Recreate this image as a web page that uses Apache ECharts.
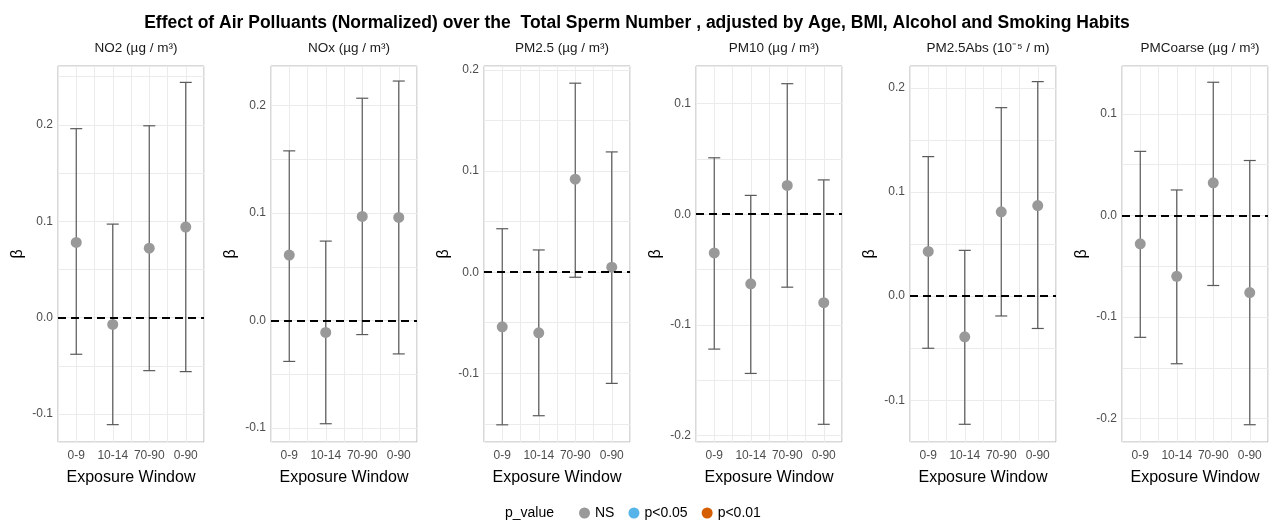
<!DOCTYPE html>
<html>
<head>
<meta charset="utf-8">
<script src="https://cdn.jsdelivr.net/npm/echarts@6/dist/echarts.min.js"></script>
<style>
  html, body { margin: 0; padding: 0; background: #fff; }
  #main { width: 1271px; height: 522px; }
</style>
</head>
<body>
<div id="main"></div>
<script>
// data
var windows = ['0-9', '10-14', '70-90', '0-90'];
var pollutants = ['NO2 (µg / m³)', 'NOx (µg / m³)', 'PM2.5 (µg / m³)', 'PM10 (µg / m³)', 'PM2.5Abs (10⁻⁵ / m)', 'PMCoarse (µg / m³)'];

var betaNO2 = [0.078, -0.007, 0.072, 0.094];
var lowNO2 = [-0.038, -0.111, -0.055, -0.056];
var highNO2 = [0.196, 0.097, 0.199, 0.244];

var betaNOx = [0.061, -0.011, 0.097, 0.096];
var lowNOx = [-0.038, -0.096, -0.013, -0.031];
var highNOx = [0.158, 0.074, 0.207, 0.223];

var betaPM25 = [-0.054, -0.060, 0.092, 0.005];
var lowPM25 = [-0.151, -0.142, -0.005, -0.110];
var highPM25 = [0.043, 0.022, 0.187, 0.119];

var betaPM10 = [-0.035, -0.063, 0.026, -0.080];
var lowPM10 = [-0.122, -0.144, -0.066, -0.190];
var highPM10 = [0.051, 0.017, 0.118, 0.031];

var betaAbs = [0.043, -0.039, 0.081, 0.087];
var lowAbs = [-0.050, -0.123, -0.019, -0.031];
var highAbs = [0.134, 0.044, 0.181, 0.206];

var betaCoarse = [-0.028, -0.060, 0.032, -0.076];
var lowCoarse = [-0.120, -0.146, -0.069, -0.206];
var highCoarse = [0.063, 0.025, 0.131, 0.054];

var pValue = ['NS', 'NS', 'NS', 'NS'];  // same for every panel
var pClasses = ['NS', 'p<0.05', 'p<0.01'];
var pColors = ['#999999', '#56B4E9', '#D55E00'];

// y ranges of each panel
var yMin = [-0.129, -0.113, -0.168, -0.206, -0.140, -0.223];
var yMax = [0.261, 0.237, 0.204, 0.134, 0.221, 0.147];

var betas = [betaNO2, betaNOx, betaPM25, betaPM10, betaAbs, betaCoarse];
var lows = [lowNO2, lowNOx, lowPM25, lowPM10, lowAbs, lowCoarse];
var highs = [highNO2, highNOx, highPM25, highPM10, highAbs, highCoarse];

var myChart = echarts.init(document.getElementById('main'));

var panelLeft = [58, 271, 484, 696, 910, 1122];
var panelWidth = 146;
var font = 'Liberation Sans, Arial, sans-serif';

var grids = [], xAxes = [], yAxes = [], series = [], titles = [];

titles.push({
    text: 'Effect of Air Polluants (Normalized) over the  Total Sperm Number , adjusted by Age, BMI, Alcohol and Smoking Habits',
    left: 632, top: 9, textAlign: 'center',
    textStyle: {fontFamily: font, fontSize: 17.5, fontWeight: 'bold', color: '#000'}
});
titles.push({
    text: 'p_value', left: 500, top: 501,
    textStyle: {fontFamily: font, fontSize: 14, fontWeight: 'normal', color: '#000'}
});

for (var i = 0; i < 6; i++) {
    grids.push({
        left: panelLeft[i], top: 66, width: panelWidth, height: 376,
        show: true, borderColor: '#b3b3b3', borderWidth: 1, backgroundColor: '#fff'
    });
    titles.push({
        text: pollutants[i], left: panelLeft[i] + panelWidth / 2, top: 36, textAlign: 'center',
        textStyle: {fontFamily: font, fontSize: 13.5, fontWeight: 'normal', color: '#1a1a1a'}
    });
    xAxes.push({
        type: 'value', gridIndex: i, min: -0.5, max: 3.5, interval: 0.5,
        name: 'Exposure Window', nameLocation: 'middle', nameGap: 28,
        nameTextStyle: {fontFamily: font, fontSize: 16, color: '#000'},
        axisLine: {show: false}, axisTick: {show: false},
        axisLabel: {
            fontFamily: font, fontSize: 12, color: '#4d4d4d', margin: 8,
            showMinLabel: true, showMaxLabel: true,
            formatter: function (v) {
                return Number.isInteger(v) ? windows[v] : '';
            }
        },
        splitLine: {show: true, lineStyle: {color: '#ebebeb', width: 1}}
    });
    var span = yMax[i] - yMin[i];
    yAxes.push({
        type: 'value', gridIndex: i, min: yMin[i], max: yMax[i],
        splitNumber: Math.round(span / 0.05),
        name: 'β', nameLocation: 'middle', nameGap: 32, nameRotate: 90,
        nameTextStyle: {fontFamily: font, fontSize: 16, color: '#000'},
        axisLine: {show: false}, axisTick: {show: false},
        axisLabel: {
            fontFamily: font, fontSize: 12, color: '#4d4d4d', margin: 5,
            formatter: function (v) {
                var r = Math.round(v * 10) / 10;
                if (Math.abs(v - r) > 1e-6) return '';
                return r.toFixed(1);
            }
        },
        splitLine: {show: true, lineStyle: {color: '#ebebeb', width: 1}}
    });

    // error bars
    var barData = [];
    for (var j = 0; j < windows.length; j++) {
        barData.push([j, lows[i][j], highs[i][j]]);
    }
    series.push({
        type: 'custom', xAxisIndex: i, yAxisIndex: i, silent: true, z: 3,
        data: barData,
        renderItem: function (params, api) {
            var lo = api.coord([api.value(0), api.value(1)]);
            var hi = api.coord([api.value(0), api.value(2)]);
            var half = 6;
            var style = {stroke: '#5a5a5a', lineWidth: 1.2};
            return {
                type: 'group',
                children: [
                    {type: 'line', shape: {x1: lo[0], y1: lo[1], x2: hi[0], y2: hi[1]}, style: style},
                    {type: 'line', shape: {x1: lo[0] - half, y1: lo[1], x2: lo[0] + half, y2: lo[1]}, style: style},
                    {type: 'line', shape: {x1: hi[0] - half, y1: hi[1], x2: hi[0] + half, y2: hi[1]}, style: style}
                ]
            };
        },
        markLine: {
            silent: true, symbol: 'none', label: {show: false},
            lineStyle: {color: '#000', type: [8, 5], width: 1.8},
            data: [{yAxis: 0}]
        }
    });

    // points, one series per p-value class
    for (var c = 0; c < pClasses.length; c++) {
        var pts = [];
        for (var k = 0; k < windows.length; k++) {
            if (pValue[k] === pClasses[c]) pts.push([k, betas[i][k]]);
        }
        series.push({
            name: pClasses[c], type: 'scatter', xAxisIndex: i, yAxisIndex: i, z: 4,
            symbolSize: 11, data: pts,
            itemStyle: {color: pColors[c], opacity: 1}
        });
    }
}

var option = {
    animation: false,
    title: titles,
    grid: grids,
    xAxis: xAxes,
    yAxis: yAxes,
    legend: {
        data: pClasses, left: 574, top: 501, icon: 'circle',
        itemWidth: 11, itemHeight: 11, itemGap: 14,
        textStyle: {fontFamily: font, fontSize: 14, color: '#000'}
    },
    series: series
};

myChart.setOption(option);
</script>
</body>
</html>
